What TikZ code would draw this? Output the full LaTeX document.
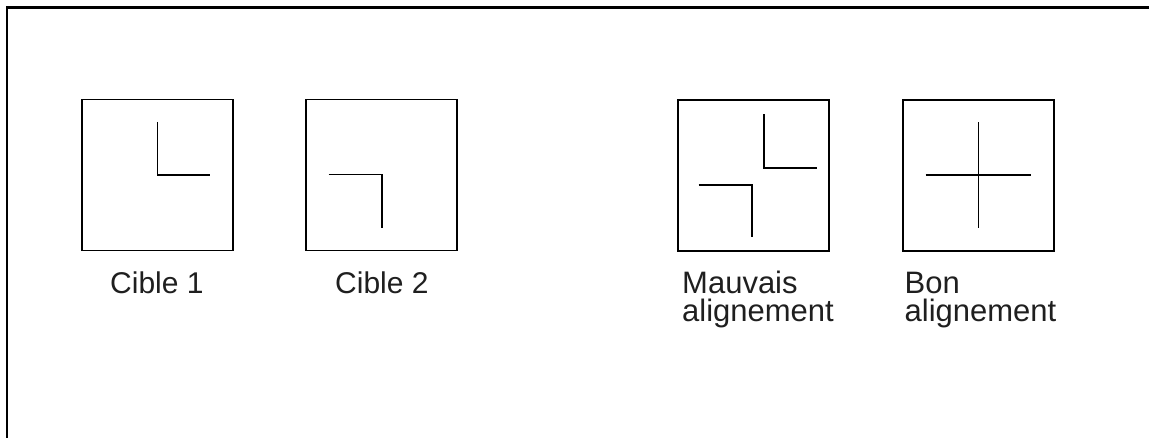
\documentclass[tikz,border=0pt]{standalone}
\usepackage{fontspec}
\setmainfont{Liberation Sans}
\begin{document}
\begin{tikzpicture}[x=1pt,y=-1pt,
  frameline/.style={line width=2.4pt,line cap=rect},
  tgt/.style={draw,line width=1.8pt,minimum size=151pt,inner sep=0pt,outer sep=0pt},
  mark line/.style={line width=1.8pt},
  lbl/.style={font=\fontsize{30}{27}\selectfont,anchor=base west,align=left,inner sep=0pt,text=black!88},
  lbltwo/.style={lbl,font=\fontsize{31}{27}\selectfont}]
\useasboundingbox (0,0) rectangle (1149,438);
% open frame: top and left edges only
\coordinate (ftl) at (7,7.5);
\coordinate (ftr) at (1149,7.5);
\coordinate (fbl) at (7,438);
\draw[frameline] (fbl) -- (ftl) -- (ftr);

% four target squares
\node[tgt] (c1) at (157.5,175) {};
\node[tgt] (c2) at (381.7,175) {};
\node[tgt] (mv) at (753.8,175.8) {};
\node[tgt] (bn) at (978.5,175.3) {};

% Cible 1: corner opening up-right
\draw[mark line] ([shift={(0,-53)}]c1.center) -- (c1.center) -- ([shift={(52,0)}]c1.center);
% Cible 2: corner opening down-left
\draw[mark line] ([shift={(-53,-0.5)}]c2.center) -- ([shift={(0.6,-0.5)}]c2.center) -- ([shift={(0.6,53.5)}]c2.center);
% misaligned: the two corners are offset
\draw[mark line] ([shift={(10.2,-61.5)}]mv.center) -- ([shift={(10.2,-7.5)}]mv.center) -- ([shift={(62.9,-7.5)}]mv.center);
\draw[mark line] ([shift={(-55.1,9.5)}]mv.center) -- ([shift={(-1.8,9.5)}]mv.center) -- ([shift={(-1.8,60.9)}]mv.center);
% aligned: corners meet in a cross
\draw[mark line] ([shift={(0,-53)}]bn.center) -- ([shift={(0,53)}]bn.center);
\draw[mark line] ([shift={(-53,0)}]bn.center) -- ([shift={(52.5,0)}]bn.center);

% captions (two-line captions are placed by the baseline of their last line)
\node[lbl] (t1) at (110,293.5) {Cible 1};
\node[lbl] (t2) at (335,293.5) {Cible 2};
\node[lbltwo] (t3) at (682,322) {Mauvais\\[1pt]alignement};
\node[lbltwo] (t4) at (904.5,322) {Bon\\[1pt]alignement};
\end{tikzpicture}
\end{document}
